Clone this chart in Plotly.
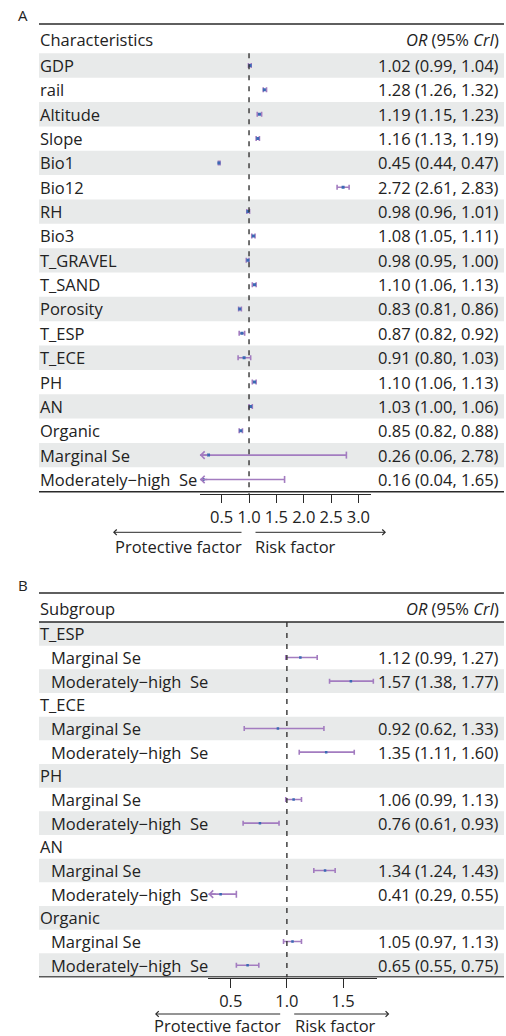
import plotly.graph_objects as go

W, H = 506, 1036
FONT = "Open Sans"
TXT = "#222222"
LINE = "#2a2a2a"
BLUE = "#3a6ab4"
PURPLE = "#a37cc0"
BAND = "#e8eaea"

# ---------------- Panel A data ----------------
a_labels = ["GDP", "rail", "Altitude", "Slope", "Bio1", "Bio12", "RH", "Bio3",
            "T_GRAVEL", "T_SAND", "Porosity", "T_ESP", "T_ECE", "PH", "AN",
            "Organic", "Marginal Se", "Moderately\u2212high  Se"]
a_or = [1.02, 1.28, 1.19, 1.16, 0.45, 2.72, 0.98, 1.08, 0.98, 1.10, 0.83, 0.87,
        0.91, 1.10, 1.03, 0.85, 0.26, 0.16]
a_lo = [0.99, 1.26, 1.15, 1.13, 0.44, 2.61, 0.96, 1.05, 0.95, 1.06, 0.81, 0.82,
        0.80, 1.06, 1.00, 0.82, 0.06, 0.04]
a_hi = [1.04, 1.32, 1.23, 1.19, 0.47, 2.83, 1.01, 1.11, 1.00, 1.13, 0.86, 0.92,
        1.03, 1.13, 1.06, 0.88, 2.78, 1.65]
a_ticks = [0.5, 1.0, 1.5, 2.0, 2.5, 3.0]
a_ticktext = ["0.5", "1.0", "1.5", "2.0", "2.5", "3.0"]
a_range = [0.1, 3.23]

# ---------------- Panel B data ----------------
b_labels = ["T_ESP", "Marginal Se", "Moderately\u2212high  Se",
            "T_ECE", "Marginal Se", "Moderately\u2212high  Se",
            "PH", "Marginal Se", "Moderately\u2212high  Se",
            "AN", "Marginal Se", "Moderately\u2212high  Se",
            "Organic", "Marginal Se", "Moderately\u2212high  Se"]
b_group = [True, False, False, True, False, False, True, False, False,
           True, False, False, True, False, False]
b_or = [None, 1.12, 1.57, None, 0.92, 1.35, None, 1.06, 0.76, None, 1.34, 0.41,
        None, 1.05, 0.65]
b_lo = [None, 0.99, 1.38, None, 0.62, 1.11, None, 0.99, 0.61, None, 1.24, 0.29,
        None, 0.97, 0.55]
b_hi = [None, 1.27, 1.77, None, 1.33, 1.60, None, 1.13, 0.93, None, 1.43, 0.55,
        None, 1.13, 0.75]
b_ticks = [0.5, 1.0, 1.5]
b_ticktext = ["0.5", "1.0", "1.5"]
b_range = [0.3, 1.8]


def py(p):
    return 1 - p / H


def px(p):
    return p / W


fig = go.Figure()
shapes = []
annotations = []


def panel(tag, letter, letter_y, header, labels, groups, est, lo, hi, xr,
          ticks, ticktext, xdom, ytop, ybot, row0, step, header_line,
          ticklen, arrow_y, text_y, arrows, tsize, msize):
    xa = "x" if tag == "" else "x" + tag
    ya = "y" if tag == "" else "y" + tag
    n = len(labels)
    yr = [(ybot - row0) / step, (ytop - row0) / step]
    fig.update_layout(**{
        ("xaxis" + tag): dict(domain=list(xdom), range=xr, anchor=ya,
                              showgrid=False, zeroline=False, showline=True,
                              linecolor=LINE, linewidth=1.3, ticks="outside",
                              ticklen=ticklen, tickwidth=1.3, tickcolor=LINE,
                              tickvals=ticks, ticktext=ticktext,
                              tickfont=dict(family=FONT, size=tsize, color=TXT),
                              fixedrange=True),
        ("yaxis" + tag): dict(domain=[py(ybot), py(ytop)], range=yr, anchor=xa,
                              visible=False, showgrid=False, zeroline=False,
                              fixedrange=True),
    })
    # bands
    for i in range(0, n, 2):
        shapes.append(dict(type="rect", xref="paper", yref=ya, x0=px(39), x1=px(504),
                           y0=i - 0.5, y1=i + 0.5, fillcolor=BAND,
                           line=dict(width=0), layer="below"))
    # table lines
    shapes.append(dict(type="line", xref="paper", yref="paper", x0=px(39), x1=px(504),
                       y0=py(ytop), y1=py(ytop), line=dict(color=LINE, width=1.5)))
    if header_line:
        shapes.append(dict(type="line", xref="paper", yref=ya, x0=px(39), x1=px(504),
                           y0=-0.5, y1=-0.5, line=dict(color=LINE, width=1.5)))
    shapes.append(dict(type="line", xref="paper", yref=ya, x0=px(39), x1=px(504),
                       y0=n - 0.5, y1=n - 0.5, line=dict(color=LINE, width=1.5)))
    # reference line
    shapes.append(dict(type="line", xref=xa, yref=ya, x0=1, x1=1, y0=-0.5, y1=yr[0],
                       line=dict(color="#333333", width=1.4, dash="5px,6px")))
    # panel letter
    annotations.append(dict(xref="paper", yref="paper", x=px(16), y=py(letter_y),
                            text=letter, showarrow=False, xanchor="left",
                            yanchor="middle", font=dict(family=FONT, size=15, color=TXT)))
    # header
    annotations.append(dict(xref="paper", yref=ya, x=px(38), y=-1.05, text=header,
                            showarrow=False, xanchor="left", yanchor="middle",
                            font=dict(family=FONT, size=16.5, color=TXT)))
    annotations.append(dict(xref="paper", yref=ya, x=px(501), y=-1.05,
                            text="<i>OR</i> (95% <i>CrI</i>)",
                            showarrow=False, xanchor="right", yanchor="middle",
                            font=dict(family=FONT, size=16.5, color=TXT)))
    # row labels & values
    for i, lab in enumerate(labels):
        indent = 38 if (groups is None or groups[i]) else 49
        annotations.append(dict(xref="paper", yref=ya, x=px(indent), y=i, text=lab,
                                showarrow=False, xanchor="left", yanchor="middle",
                                font=dict(family=FONT, size=16.5, color=TXT)))
        if est[i] is not None:
            annotations.append(dict(xref="paper", yref=ya, x=px(501), y=i,
                                    text=f"{est[i]:.2f} ({lo[i]:.2f}, {hi[i]:.2f})",
                                    showarrow=False, xanchor="right", yanchor="middle",
                                    font=dict(family=FONT, size=16.5, color=TXT)))
    # unclipped intervals (native error bars)
    ux, uy, up, um = [], [], [], []
    for i in range(n):
        if est[i] is None or lo[i] < xr[0]:
            continue
        ux.append(est[i]); uy.append(i)
        up.append(hi[i] - est[i]); um.append(est[i] - lo[i])
    fig.add_trace(go.Scatter(x=ux, y=uy, xaxis=xa, yaxis=ya, mode="markers",
                             marker=dict(symbol="square", size=msize, color=BLUE),
                             error_x=dict(type="data", symmetric=False, array=up,
                                          arrayminus=um, color=PURPLE, thickness=1.6,
                                          width=2.5),
                             showlegend=False, hoverinfo="skip"))
    # clipped intervals: shaft + cap + arrow head
    for i in range(n):
        if est[i] is None or lo[i] >= xr[0]:
            continue
        fig.add_trace(go.Scatter(x=[xr[0], hi[i]], y=[i, i], xaxis=xa, yaxis=ya,
                                 mode="lines", line=dict(color=PURPLE, width=1.6),
                                 showlegend=False, hoverinfo="skip"))
        fig.add_trace(go.Scatter(x=[hi[i]], y=[i], xaxis=xa, yaxis=ya, mode="markers",
                                 marker=dict(symbol="line-ns", size=5,
                                             line=dict(color=PURPLE, width=1.6)),
                                 showlegend=False, hoverinfo="skip"))
        annotations.append(dict(xref=xa, yref=ya, x=xr[0], y=i, ax=9, ay=0,
                                axref="pixel", ayref="pixel", text="", showarrow=True,
                                arrowhead=4, arrowsize=0.9, arrowwidth=1.6,
                                arrowcolor=PURPLE))
        fig.add_trace(go.Scatter(x=[est[i]], y=[i], xaxis=xa, yaxis=ya, mode="markers",
                                 marker=dict(symbol="square", size=msize, color=BLUE),
                                 showlegend=False, hoverinfo="skip"))
    # direction arrows
    (l0, l1, r0, r1, pt_x, rt_x) = arrows
    annotations.append(dict(xref="paper", yref="paper", x=px(l0), y=py(arrow_y),
                            ax=l1 - l0, ay=0, axref="pixel", ayref="pixel", text="",
                            showarrow=True, arrowhead=4, arrowsize=1.1, arrowwidth=1,
                            arrowcolor=LINE))
    annotations.append(dict(xref="paper", yref="paper", x=px(r1), y=py(arrow_y),
                            ax=r0 - r1, ay=0, axref="pixel", ayref="pixel", text="",
                            showarrow=True, arrowhead=4, arrowsize=1.1, arrowwidth=1,
                            arrowcolor=LINE))
    annotations.append(dict(xref="paper", yref="paper", x=px(pt_x), y=py(text_y),
                            text="Protective factor", showarrow=False, xanchor="left",
                            yanchor="middle", font=dict(family=FONT, size=16.5, color=TXT)))
    annotations.append(dict(xref="paper", yref="paper", x=px(rt_x), y=py(text_y),
                            text="Risk factor", showarrow=False, xanchor="left",
                            yanchor="middle", font=dict(family=FONT, size=16.5, color=TXT)))


panel("", "A", 15.5, "Characteristics", a_labels, None, a_or, a_lo, a_hi, a_range,
      a_ticks, a_ticktext, (px(199.8), px(371)), 24, 494, 65.5, 24.35, False,
      8, 532.3, 546.5, (113, 243, 254, 386, 113, 253), 16.5, 3)

panel("2", "B", 585, "Subgroup", b_labels, b_group, b_or, b_lo, b_hi, b_range,
      b_ticks, b_ticktext, (px(208.3), px(376.7)), 593, 977.5, 633.8, 23.67, True,
      9, 1014, 1025, (155, 281.7, 292.7, 389.3, 152, 293), 16.5, 2.5)

fig.update_layout(width=W, height=H, margin=dict(l=0, r=0, t=0, b=0),
                  paper_bgcolor="white", plot_bgcolor="white",
                  shapes=shapes, annotations=annotations,
                  font=dict(family=FONT, color=TXT))

fig.write_html("out.html",
               config={"displayModeBar": False},
               post_script="document.body.style.margin='0px';"
                           "document.body.style.overflow='hidden';")
